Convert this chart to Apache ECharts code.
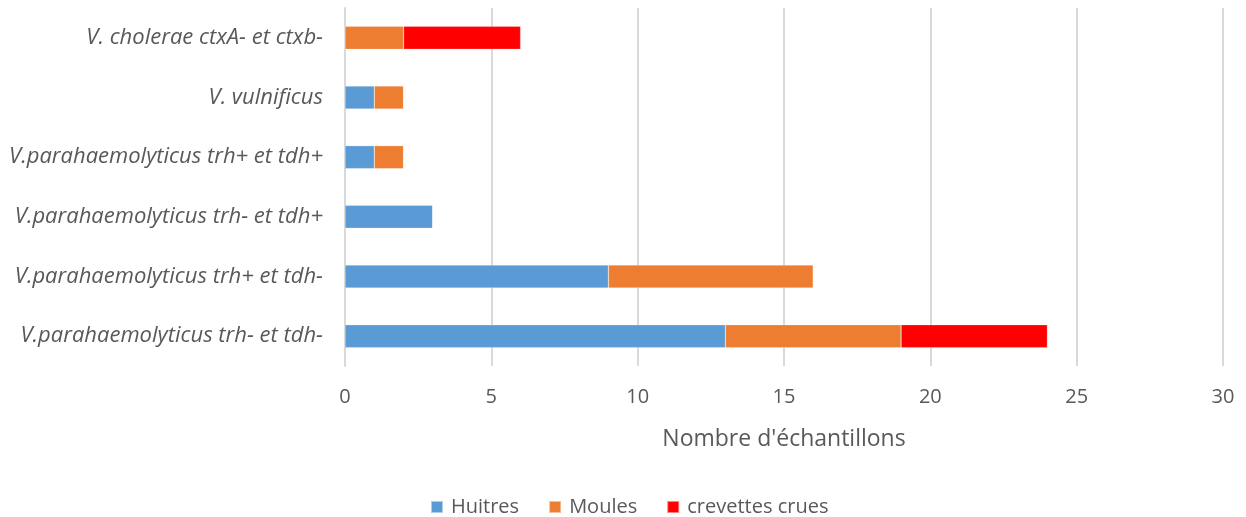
<!DOCTYPE html>
<html><head><meta charset="utf-8">
<script src="https://cdn.jsdelivr.net/npm/echarts@6/dist/echarts.min.js"></script>
<style>html,body{margin:0;padding:0;background:#fff}#c{width:1246px;height:517px}</style>
</head><body><div id="c"></div>
<script>
const categories = [
  "V.parahaemolyticus trh- et tdh-",
  "V.parahaemolyticus trh+ et tdh-",
  "V.parahaemolyticus trh- et tdh+",
  "V.parahaemolyticus trh+ et tdh+",
  "V. vulnificus",
  "V. cholerae ctxA- et ctxb-"
];
const huitres = [13, 9, 3, 1, 1, 0];
const moules = [6, 7, 0, 1, 1, 2];
const crevettes = [5, 0, 0, 0, 0, 4];
const seriesNames = ["Huitres", "Moules", "crevettes crues"];
const colors = ["#5B9BD5", "#ED7D31", "#FF0000"];

const font = "'Open Sans', sans-serif";
const chart = echarts.init(document.getElementById('c'));
const mk = (name, data, color) => ({
  name, type: 'bar', stack: 'a', data, barWidth: 23,
  itemStyle: { color, borderColor: 'rgba(255,255,255,0.5)', borderWidth: 0.5 },
  emphasis: { disabled: true }
});
chart.setOption({
  animation: false,
  textStyle: { fontFamily: font },
  grid: { left: 345, right: 23, top: 8, bottom: 151, containLabel: false },
  xAxis: {
    type: 'value', min: 0, max: 30, interval: 5,
    name: "Nombre d'échantillons", nameLocation: 'middle', nameGap: 62,
    nameTextStyle: { fontSize: 23, color: '#595959', fontFamily: font },
    axisLine: { show: false }, axisTick: { show: false },
    axisLabel: { fontSize: 20, color: '#595959', margin: 21, fontFamily: font },
    splitLine: { lineStyle: { color: '#D9D9D9', width: 2 } }
  },
  yAxis: {
    type: 'category', data: categories,
    axisLine: { show: true, lineStyle: { color: '#D9D9D9', width: 2 } },
    axisTick: { show: false },
    axisLabel: { fontSize: 22, color: '#595959', fontStyle: 'italic', margin: 22, fontFamily: font }
  },
  legend: {
    top: 492, left: 425, itemWidth: 12, itemHeight: 12, itemGap: 29,
    icon: 'rect',
    textStyle: { fontSize: 20, color: '#595959', fontFamily: font, padding: [0, 0, 0, 3] },
    data: seriesNames
  },
  series: [mk(seriesNames[0], huitres, colors[0]), mk(seriesNames[1], moules, colors[1]), mk(seriesNames[2], crevettes, colors[2])]
});
</script></body></html>
